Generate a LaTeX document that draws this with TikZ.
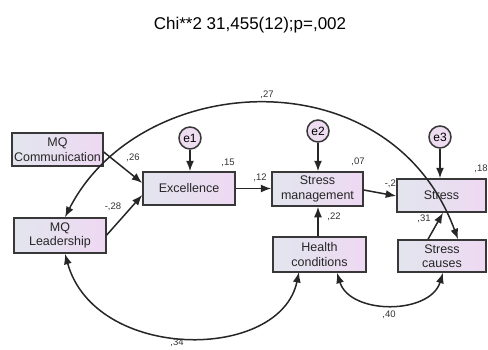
\documentclass[tikz,border=0pt]{standalone}
\usepackage{fontspec}
\setmainfont{Liberation Sans}
\usetikzlibrary{arrows.meta}
\definecolor{boxleft}{HTML}{E2E5EE}
\definecolor{boxright}{HTML}{EED9F2}
\definecolor{errfill}{HTML}{EEDCF0}
\definecolor{edge}{HTML}{383838}
\begin{document}
\begin{tikzpicture}[x=1pt,y=-1pt,
  var/.style={draw=edge,line width=1.5pt,shading=axis,left color=boxleft,right color=boxright,
    inner sep=0pt,align=center,font=\fontsize{12.5}{14.5}\selectfont,text=black!85},
  err/.style={circle,draw=edge,line width=1.5pt,fill=errfill,minimum size=22pt,inner sep=0pt,
    font=\fontsize{12}{14}\selectfont},
  tip/.tip={Latex[length=10.5pt,width=8pt]},
  path/.style={line width=1.5pt,draw=black!85,-tip},
  cov/.style={line width=1.5pt,draw=black!85,tip-tip},
  est/.style={font=\fontsize{9.5}{11}\selectfont,text=black!80,inner sep=0pt}]
\useasboundingbox (0,0) rectangle (488,349);

% title
\node[font=\fontsize{17}{20}\selectfont] (title) at (250,25) {Chi**2 31,455(12);p=,002};

% label partly covered by the Stress box
\node[est] (l27b) at (393,184) {-,27};

% observed variables
\node[var,minimum width=91pt,minimum height=33pt] (comm) at (57.5,149.5) {MQ\\Communication};
\node[var,minimum width=92pt,minimum height=35pt] (lead) at (60,235.5) {MQ\\Leadership};
\node[var,minimum width=92pt,minimum height=33pt] (exc) at (189,188.5) {Excellence};
\node[var,minimum width=91pt,minimum height=34pt] (sm) at (317.5,189) {Stress\\management};
\node[var,minimum width=89pt,minimum height=33pt] (stress) at (441.5,195.5) {Stress};
\node[var,minimum width=93pt,minimum height=35pt] (health) at (319.5,254.5) {Health\\conditions};
\node[var,minimum width=88pt,minimum height=32pt] (causes) at (442,256) {Stress\\causes};

% error terms
\node[err] (e1) at (190,138) {e1};
\node[err] (e2) at (318,131) {e2};
\node[err] (e3) at (440,137) {e3};

% regression paths
\draw[path] (comm.east |- 0,152) -- (exc.west |- 0,183);
\draw[path] (lead.east |- 0,235) -- (exc.west |- 0,195);
\draw[path] (e1) -- (exc.north -| e1);
\draw[path] (exc) -- (sm.west |- exc);
\draw[path] (e2) -- (sm.north -| e2);
\draw[path] (sm.east |- 0,190) -- (stress.west |- 0,196);
\draw[path] (e3) -- (stress.north -| e3);
\draw[path] (health.north -| 318,0) -- (sm.south -| 318,0);
\draw[path] (causes.north -| 428,0) -- (stress.south -| 443,0);

% covariances
\coordinate (c27a) at (lead.north -| 65,0);
\coordinate (c27b) at (causes.north -| 458,0);
\draw[cov] (c27a) .. controls (140,70) and (390,55) .. (c27b);
\coordinate (c34a) at (lead.south -| 65,0);
\coordinate (c34b) at (299,272);
\draw[cov] (c34a) .. controls (95,362) and (280,362) .. (c34b);
\coordinate (c40a) at (health.south -| 337,0);
\coordinate (c40b) at (causes.south -| 443,0);
\draw[cov] (c40a) .. controls (350,315) and (430,315) .. (c40b);

% estimates
\node[est] (l26) at (133,158) {,26};
\node[est] (l28) at (113,207) {-,28};
\node[est] (l15) at (228,163) {,15};
\node[est] (l12) at (260,178) {,12};
\node[est] (l07) at (358,162) {,07};
\node[est] (l18) at (481,169) {,18};
\node[est] (l22) at (334,217) {,22};
\node[est] (l31) at (424,219) {,31};
\node[est] (l27) at (267,95) {,27};
\node[est] (l34) at (177,343) {,34};
\node[est] (l40) at (389,315) {,40};
\end{tikzpicture}
\end{document}
